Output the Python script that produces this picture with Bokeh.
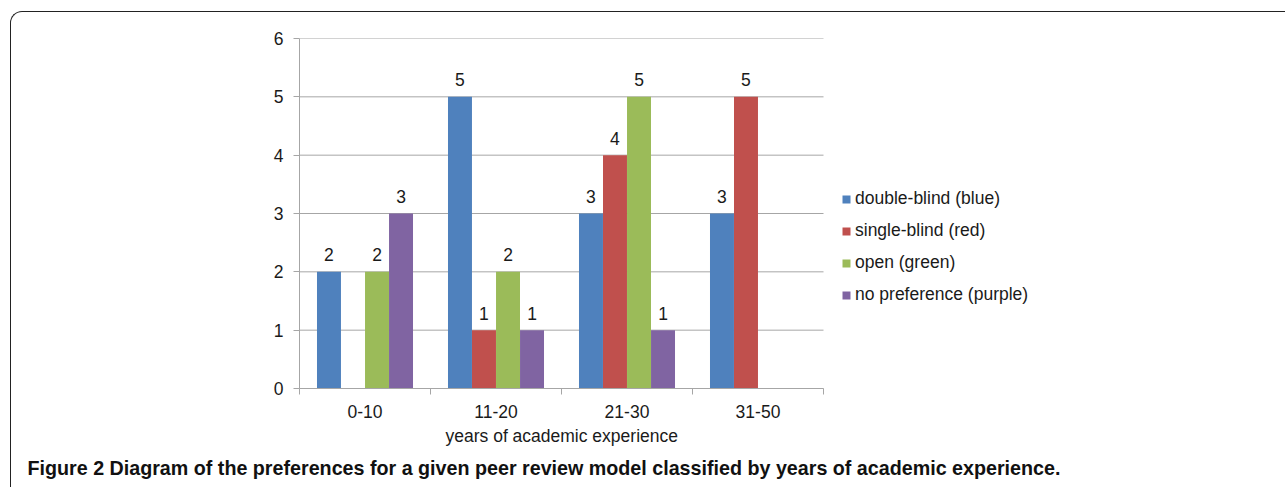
from bokeh.plotting import figure
from bokeh.models import (ColumnDataSource, Legend, LegendItem, LabelSet, Title,
                          FixedTicker, InlineStyleSheet)
from bokeh.core.properties import value
from bokeh.embed import file_html
from bokeh.resources import INLINE

categories = ["0-10", "11-20", "21-30", "31-50"]
series_names = ["double-blind (blue)", "single-blind (red)", "open (green)", "no preference (purple)"]
double_blind = [2, 5, 3, 3]
single_blind = [0, 1, 4, 5]
open_review = [2, 2, 5, 0]
no_preference = [3, 1, 1, 0]
y_ticks = [0, 1, 2, 3, 4, 5, 6]
x_title = "years of academic experience"
caption = "Figure 2 Diagram of the preferences for a given peer review model classified by years of academic experience."

colors = ["#4F81BD", "#C0504D", "#9BBB59", "#8064A2"]
offsets = [-0.275, -0.0917, 0.0917, 0.275]
bar_w = 0.183
FONT = "Liberation Sans"
FS = "17.5px"
TXT = "#1a1a1a"
GRID = "#a6a6a6"

# frame: left 299, width 976 px; the 4 categories occupy 524 px of it,
# the rest holds the legend
n = len(categories)
frame_w = 976
cat_px = 524
x_end = n * frame_w / cat_px

box_css = InlineStyleSheet(css="""
:host::after {
  content: '';
  position: absolute;
  left: 10px; top: 11px; right: 0; bottom: 0;
  border-top: 1.5px solid #222;
  border-left: 1.5px solid #222;
  border-top-left-radius: 12px;
  pointer-events: none;
}
""")

p = figure(width=1285, height=487, output_backend="svg", toolbar_location=None,
           x_range=(0, x_end), y_range=(0, 6),
           min_border_left=299, min_border_right=1285 - 299 - frame_w,
           min_border_top=38, min_border_bottom=99)
p.stylesheets = [box_css]
p.outline_line_color = None
p.background_fill_color = "white"
p.border_fill_color = "white"

# horizontal gridlines across the category area only
p.segment(x0=[0] * len(y_ticks), x1=[n] * len(y_ticks), y0=y_ticks, y1=y_ticks,
          line_color=GRID, line_width=1)

all_series = [double_blind, single_blind, open_review, no_preference]
items = []
for k, vals in enumerate(all_series):
    xs = [i + 0.5 + offsets[k] for i in range(n)]
    src = ColumnDataSource(dict(x=xs, top=vals))
    r = p.vbar(x="x", top="top", width=bar_w, source=src, fill_color=colors[k],
               line_color=None)
    items.append(LegendItem(label=series_names[k], renderers=[r]))
    lx = [x for x, v in zip(xs, vals) if v > 0]
    lv = [v for v in vals if v > 0]
    lsrc = ColumnDataSource(dict(x=lx, y=lv, t=[str(v) for v in lv]))
    p.add_layout(LabelSet(x="x", y="y", text="t", source=lsrc, y_offset=17,
                          text_align="center", text_baseline="middle",
                          text_font=value(FONT), text_font_size=value(FS),
                          text_color=TXT))

# axes
p.yaxis.ticker = FixedTicker(ticks=y_ticks)
p.yaxis.axis_line_color = GRID
p.yaxis.major_tick_line_color = GRID
p.yaxis.major_tick_out = 6
p.yaxis.major_tick_in = 0
p.yaxis.minor_tick_line_color = None
p.yaxis.major_label_standoff = 10
p.yaxis.major_label_text_font = FONT
p.yaxis.major_label_text_font_size = FS
p.yaxis.major_label_text_color = TXT

centers = [i + 0.5 for i in range(n)]
p.xaxis.bounds = (0, n)
p.xaxis.ticker = FixedTicker(ticks=centers, minor_ticks=list(range(n + 1)))
p.xaxis.major_label_overrides = {c: lab for c, lab in zip(centers, categories)}
p.xaxis.axis_line_color = GRID
p.xaxis.major_tick_line_color = None
p.xaxis.major_tick_out = 0
p.xaxis.major_tick_in = 0
p.xaxis.minor_tick_line_color = GRID
p.xaxis.minor_tick_out = 6
p.xaxis.minor_tick_in = 0
p.xaxis.major_label_standoff = 10
p.xaxis.major_label_text_font = FONT
p.xaxis.major_label_text_font_size = FS
p.xaxis.major_label_text_color = TXT

p.xgrid.grid_line_color = None
p.ygrid.grid_line_color = None

legend = Legend(items=items, location=(542, 83), orientation="vertical",
                glyph_width=10, glyph_height=10, label_height=20, spacing=11,
                label_standoff=4, padding=0, margin=0,
                border_line_color=None, background_fill_alpha=0,
                label_text_font=FONT, label_text_font_size=FS, label_text_color=TXT)
p.add_layout(legend)

# x-axis title, centred under the category area (frame is wider than it)
p.add_layout(Title(text=x_title, align="left", offset=146, standoff=6,
                   text_font=FONT, text_font_style="normal", text_font_size=FS,
                   text_color=TXT), "below")

p.add_layout(Title(text=caption, align="left", offset=-272, standoff=12,
                   text_font=FONT, text_font_style="bold", text_font_size="19.7px",
                   text_color="#111111"), "below")

open("out.html", "w").write(file_html(p, INLINE))
